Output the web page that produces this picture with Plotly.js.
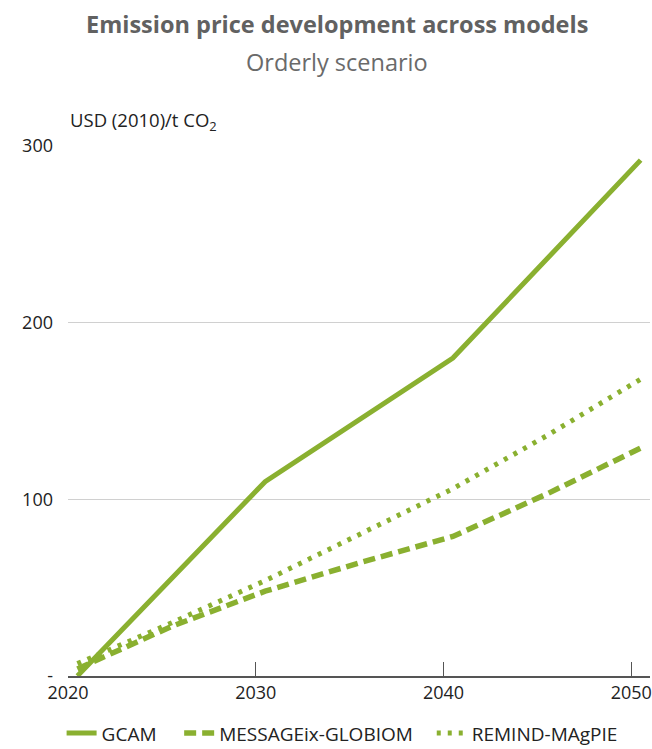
<!DOCTYPE html>
<html>
<head>
<meta charset="utf-8">
<script src="https://cdn.plot.ly/plotly-3.0.1.min.js"></script>
<style>html,body{margin:0;padding:0;background:#fff;}#chart{width:652px;height:749px;}</style>
</head>
<body>
<div id="chart"></div>
<script>
const years = [2020, 2025, 2030, 2035, 2040, 2045, 2050];
const gcamYears = [2020, 2030, 2040, 2050];
const gcam = [0, 110, 180, 292];
const message = [4, 28, 48, 64, 79, 103, 129];
const remind = [7, 30, 54, 80, 106, 136, 168];
const tickYears = [2019.5, 2029.5, 2039.5, 2049.5];
const tickLabels = ["2020", "2030", "2040", "2050"];
const yTicks = [0, 100, 200, 300];
const yLabels = ["-", "100", "200", "300"];

const green = '#8AB030';
const font = "'Open Sans', 'Noto Sans', sans-serif";

const traces = [
  {x: gcamYears, y: gcam, name: 'GCAM', mode: 'lines', legend: 'legend',
   line: {color: green, width: 5, dash: 'solid'}},
  {x: years, y: message, name: 'MESSAGEix-GLOBIOM', mode: 'lines', legend: 'legend2',
   line: {color: green, width: 5.5, dash: '12px,6px'}},
  {x: years, y: remind, name: 'REMIND-MAgPIE', mode: 'lines', legend: 'legend3',
   line: {color: green, width: 5, dash: '4px,7px'}}
];

function leg(x) {
  return {orientation: 'h', x: x, xanchor: 'left', y: -0.108, yanchor: 'middle',
    font: {size: 19, color: '#222', family: font}, itemwidth: 30, borderwidth: 0,
    bgcolor: 'rgba(0,0,0,0)'};
}

const layout = {
  width: 652, height: 749,
  margin: {l: 68, r: 2, t: 146, b: 73, autoexpand: false},
  paper_bgcolor: '#fff', plot_bgcolor: '#fff',
  font: {family: font, color: '#222', size: 18},
  showlegend: true,
  legend: leg(-0.011),
  legend2: leg(0.191),
  legend3: leg(0.625),
  xaxis: {range: [2019.5, 2050.5], tickvals: tickYears, ticktext: tickLabels,
    showgrid: false, zeroline: false, showline: true, linecolor: '#555', linewidth: 1.5,
    ticks: 'inside', ticklen: 14, tickcolor: '#555', tickwidth: 1.2,
    tickfont: {size: 18, color: '#222'}, fixedrange: true},
  yaxis: {range: [0, 300], tickvals: yTicks, ticktext: yLabels,
    showgrid: true, gridcolor: '#d0d0d0', gridwidth: 1.2, zeroline: false, showline: false,
    ticks: '', ticklabelstandoff: 14, tickfont: {size: 18, color: '#222'}, fixedrange: true},
  annotations: [
    {text: '<b>Emission price development across models</b>', xref: 'paper', yref: 'paper',
     x: 0.462, y: 1, yshift: 122, xanchor: 'center', yanchor: 'middle', showarrow: false,
     font: {size: 23.5, color: '#616161', family: font}},
    {text: 'Orderly scenario', xref: 'paper', yref: 'paper',
     x: 0.462, y: 1, yshift: 84, xanchor: 'center', yanchor: 'middle', showarrow: false,
     font: {size: 23.5, color: '#6a6a6a', family: font}},
    {text: 'USD (2010)/t CO<sub>2</sub>', xref: 'paper', yref: 'paper',
     x: 0, y: 1, yshift: 25, xanchor: 'left', yanchor: 'middle', showarrow: false,
     font: {size: 18.5, color: '#222', family: font}}
  ]
};

Plotly.newPlot('chart', traces, layout, {displayModeBar: false, staticPlot: true});
</script>
</body>
</html>
